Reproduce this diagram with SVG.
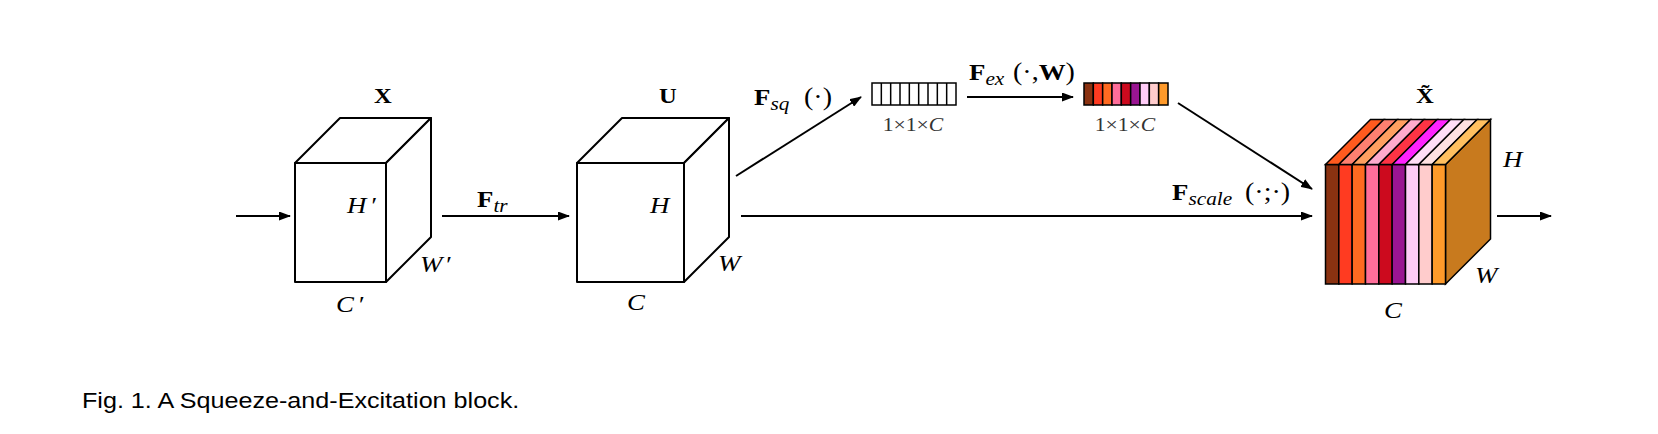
<svg xmlns="http://www.w3.org/2000/svg" width="1658" height="434" viewBox="0 0 1658 434">
<defs>
<style>
.face{fill:#fff;stroke:#000;stroke-width:2;stroke-linejoin:round}
.ln{stroke:#000;stroke-width:2;fill:none}
.cell{stroke:#000;stroke-width:1.5}
text{font-family:"Liberation Serif","Times New Roman",serif;fill:#000}
.bf{font-weight:bold;font-size:22px}
.fb{font-weight:bold;font-size:24px}
.it{font-style:italic;font-size:24px}
.sub{font-style:italic;font-size:19px}
.rm{font-size:25px}
.dim{font-size:19px;fill:#333}
.cap{font-family:"Liberation Sans",Arial,sans-serif;font-size:21.5px}
</style>
<marker id="ah" markerUnits="userSpaceOnUse" markerWidth="12" markerHeight="9" refX="11" refY="4.5" orient="auto">
<path d="M0,0 L12,4.5 L0,9 z" fill="#000"/>
</marker>
</defs>
<rect width="1658" height="434" fill="#fff"/>

<g id="connectors">
<line class="ln" x1="236" y1="216" x2="290" y2="216" marker-end="url(#ah)"/>
<line class="ln" x1="442" y1="216" x2="569" y2="216" marker-end="url(#ah)"/>
<line class="ln" x1="736" y1="176" x2="861" y2="97" marker-end="url(#ah)"/>
<line class="ln" x1="967" y1="97" x2="1073" y2="97" marker-end="url(#ah)"/>
<line class="ln" x1="1178" y1="103" x2="1312" y2="189" marker-end="url(#ah)"/>
<line class="ln" x1="741" y1="216" x2="1312" y2="216" marker-end="url(#ah)"/>
<line class="ln" x1="1497" y1="216" x2="1551" y2="216" marker-end="url(#ah)"/>
</g>

<g id="labels">
<text transform="translate(477 207) scale(1.12 1)"><tspan class="fb" font-size="23">F</tspan><tspan class="sub" dy="5">tr</tspan></text>
<text transform="translate(754 105) scale(1.12 1)"><tspan class="fb">F</tspan><tspan class="sub" dy="5">sq</tspan></text>
<text class="rm" transform="translate(804 105) scale(1.12 1)">(·)</text>
<text transform="translate(969 80) scale(1.12 1)"><tspan class="fb">F</tspan><tspan class="sub" dy="5">ex</tspan></text>
<text transform="translate(1013 80) scale(1.12 1)"><tspan class="rm">(·,</tspan><tspan class="fb">W</tspan><tspan class="rm">)</tspan></text>
<text transform="translate(1172 200) scale(1.12 1)"><tspan class="fb">F</tspan><tspan class="sub" dy="5">scale</tspan></text>
<text class="rm" transform="translate(1245 200) scale(1.12 1)">(·;·)</text>
</g>

<g id="node-X">
<rect class="face" x="295" y="163" width="91" height="119"/>
<polygon class="face" points="295,163 340,118 431,118 386,163"/>
<polygon class="face" points="386,163 431,118 431,237 386,282"/>
<text class="bf" text-anchor="middle" transform="translate(383 103) scale(1.12 1)">X</text>
<text class="it" transform="translate(347 213) scale(1.12 1)">H<tspan dx="3">′</tspan></text>
<text class="it" transform="translate(420 272) scale(1.12 1)">W<tspan dx="2">′</tspan></text>
<text class="it" transform="translate(336 312) scale(1.12 1)">C<tspan dx="3">′</tspan></text>
</g>

<g id="node-U">
<rect class="face" x="577" y="163" width="107" height="119"/>
<polygon class="face" points="577,163 622,118 729,118 684,163"/>
<polygon class="face" points="684,163 729,118 729,237 684,282"/>
<text class="bf" text-anchor="middle" transform="translate(668 103) scale(1.12 1)">U</text>
<text class="it" transform="translate(650 213) scale(1.12 1)">H</text>
<text class="it" transform="translate(718 271) scale(1.12 1)">W</text>
<text class="it" transform="translate(627 310) scale(1.12 1)">C</text>
</g>

<g id="node-squeeze">
<rect class="cell" x="872" y="83" width="84" height="22" fill="#fff"/>
<path class="cell" d="M881.33,83V105M890.67,83V105M900,83V105M909.33,83V105M918.67,83V105M928,83V105M937.33,83V105M946.67,83V105"/>
<text class="dim" text-anchor="middle" transform="translate(913 131) scale(1.14 1)">1×1×<tspan font-style="italic">C</tspan></text>
</g>

<g id="node-excite">
<rect class="cell" x="1084" y="83" width="9.33" height="22" fill="#8A3211"/>
<rect class="cell" x="1093.33" y="83" width="9.33" height="22" fill="#FF3B21"/>
<rect class="cell" x="1102.67" y="83" width="9.33" height="22" fill="#FF6A21"/>
<rect class="cell" x="1112" y="83" width="9.33" height="22" fill="#FF6E9A"/>
<rect class="cell" x="1121.33" y="83" width="9.33" height="22" fill="#CC0A1E"/>
<rect class="cell" x="1130.67" y="83" width="9.33" height="22" fill="#9A1592"/>
<rect class="cell" x="1140" y="83" width="9.33" height="22" fill="#FFCCF7"/>
<rect class="cell" x="1149.33" y="83" width="9.33" height="22" fill="#FFCCCC"/>
<rect class="cell" x="1158.67" y="83" width="9.33" height="22" fill="#FF9A2A"/>
<text class="dim" text-anchor="middle" transform="translate(1125 131) scale(1.14 1)">1×1×<tspan font-style="italic">C</tspan></text>
</g>

<g id="node-Xtilde">
<polygon class="cell" points="1445.5,164.5 1490.5,119.5 1490.5,239 1445.5,284" fill="#C87A1E"/>
<rect class="cell" x="1325.5" y="164.5" width="13.33" height="119.5" fill="#8A3211"/>
<rect class="cell" x="1338.83" y="164.5" width="13.33" height="119.5" fill="#FF3B21"/>
<rect class="cell" x="1352.17" y="164.5" width="13.33" height="119.5" fill="#FF6A21"/>
<rect class="cell" x="1365.5" y="164.5" width="13.33" height="119.5" fill="#FF6E9A"/>
<rect class="cell" x="1378.83" y="164.5" width="13.33" height="119.5" fill="#CC0A1E"/>
<rect class="cell" x="1392.17" y="164.5" width="13.33" height="119.5" fill="#9A1592"/>
<rect class="cell" x="1405.5" y="164.5" width="13.33" height="119.5" fill="#FFCCF7"/>
<rect class="cell" x="1418.83" y="164.5" width="13.33" height="119.5" fill="#FFCCCC"/>
<rect class="cell" x="1432.17" y="164.5" width="13.33" height="119.5" fill="#FF9A2A"/>
<polygon class="cell" points="1325.5,164.5 1338.83,164.5 1383.83,119.5 1370.5,119.5" fill="#FF5A1E"/>
<polygon class="cell" points="1338.83,164.5 1352.17,164.5 1397.17,119.5 1383.83,119.5" fill="#FF8070"/>
<polygon class="cell" points="1352.17,164.5 1365.5,164.5 1410.5,119.5 1397.17,119.5" fill="#FF9F60"/>
<polygon class="cell" points="1365.5,164.5 1378.83,164.5 1423.83,119.5 1410.5,119.5" fill="#FFAACC"/>
<polygon class="cell" points="1378.83,164.5 1392.17,164.5 1437.17,119.5 1423.83,119.5" fill="#FF3344"/>
<polygon class="cell" points="1392.17,164.5 1405.5,164.5 1450.5,119.5 1437.17,119.5" fill="#FF22FF"/>
<polygon class="cell" points="1405.5,164.5 1418.83,164.5 1463.83,119.5 1450.5,119.5" fill="#FFDDF6"/>
<polygon class="cell" points="1418.83,164.5 1432.17,164.5 1477.17,119.5 1463.83,119.5" fill="#FFE2E2"/>
<polygon class="cell" points="1432.17,164.5 1445.5,164.5 1490.5,119.5 1477.17,119.5" fill="#FFC060"/>
<text class="bf" text-anchor="middle" transform="translate(1425 103) scale(1.12 1)">X̃</text>
<text class="it" transform="translate(1503 167) scale(1.12 1)">H</text>
<text class="it" transform="translate(1475 283) scale(1.12 1)">W</text>
<text class="it" transform="translate(1384 318) scale(1.12 1)">C</text>
</g>

<text class="cap" transform="translate(82 408) scale(1.17 1)">Fig. 1. A Squeeze-and-Excitation block.</text>
</svg>
